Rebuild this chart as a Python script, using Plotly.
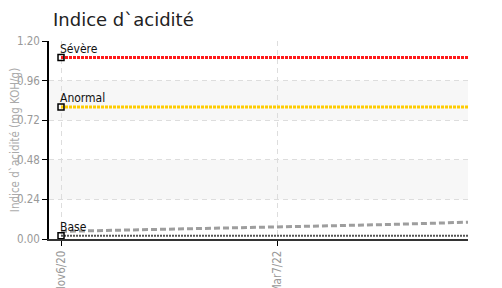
import plotly.graph_objects as go

# ---- data ----
tick_dates = ["2020-11-06", "2022-03-07"]
tick_labels = ["Nov6/20", "Mar7/22"]

x_start = "2020-11-06"
x_end = "2023-05-10"

threshold_names = ["Sévère", "Anormal", "Base"]
threshold_values = [1.10, 0.80, 0.02]
threshold_colors = ["#ff1a1a", "#ffcc00", "#555555"]

trend_dates = ["2020-11-06", "2021-03-01", "2021-07-01", "2021-11-01", "2022-03-07",
               "2022-07-01", "2022-11-01", "2023-03-01", "2023-05-10"]
trend_values = [0.046, 0.052, 0.058, 0.065, 0.072, 0.079, 0.087, 0.096, 0.102]

y_ticks = [0.0, 0.24, 0.48, 0.72, 0.96, 1.20]
bands = [(0.72, 0.96), (0.24, 0.48)]

COND = "DejaVu Sans Condensed, sans-serif"
tick_font = dict(family=COND, size=11.5, color="#999999")

fig = go.Figure()

# trend (gray dashed)
fig.add_trace(go.Scatter(x=trend_dates, y=trend_values, mode="lines",
                         line=dict(color="#9e9e9e", width=3, dash="6px,3px"),
                         hoverinfo="skip", showlegend=False))

# threshold lines
for name, val, col in zip(threshold_names, threshold_values, threshold_colors):
    w = 3 if name != "Base" else 2
    dash = "3px,1px" if name != "Base" else "2px,1px"
    fig.add_trace(go.Scatter(x=[x_start, x_end], y=[val, val], mode="lines",
                             line=dict(color=col, width=w, dash=dash),
                             hoverinfo="skip", showlegend=False))
    fig.add_trace(go.Scatter(x=[x_start], y=[val], mode="markers",
                             marker=dict(symbol="square-open", size=6, color="#000000",
                                         line=dict(width=1.5, color="#000000")),
                             hoverinfo="skip", showlegend=False))
    fig.add_annotation(x=x_start, y=val, text=name, showarrow=False,
                       xanchor="left", yanchor="bottom", xshift=-3, yshift=0,
                       font=dict(family=COND, size=12, color="#111111"))

for lo, hi in bands:
    fig.add_shape(type="rect", xref="paper", yref="y", x0=0, x1=1, y0=lo, y1=hi,
                  fillcolor="#f7f7f7", line=dict(width=0), layer="below")

# page body has an 8px margin: figure is 494x280 drawn from (8, 8)
fig.update_layout(
    width=494, height=280,
    margin=dict(l=41, r=34, t=33, b=49),
    paper_bgcolor="white", plot_bgcolor="white",
    title=dict(text="Indice d`acidité", x=45 / 494, xref="container", xanchor="left",
               y=1 - 11.5 / 280, yref="container", yanchor="middle",
               font=dict(family="DejaVu Sans, sans-serif", size=18, color="#222222")),
    showlegend=False,
)

fig.update_xaxes(
    type="date", range=["2020-10-10", x_end],
    tickmode="array", tickvals=tick_dates, ticktext=tick_labels,
    tickangle=-90, tickfont=tick_font,
    showgrid=True, gridcolor="#dddddd", griddash="5px,4px", gridwidth=1,
    showline=True, linecolor="#333333", linewidth=2,
    ticks="outside", ticklen=5, tickcolor="#000000",
    zeroline=False, automargin=False,
)
fig.update_yaxes(
    range=[0, 1.2], tickmode="array", tickvals=y_ticks,
    ticktext=[f"{v:.2f}" for v in y_ticks], tickfont=tick_font,
    showgrid=True, gridcolor="#dddddd", griddash="5px,4px", gridwidth=1,
    showline=True, linecolor="#000000", linewidth=1.5,
    ticks="outside", ticklen=5, tickcolor="#000000",
    zeroline=False, automargin=False,
    title=dict(text="Indice d`acidité (mg KOH/g)", standoff=3,
               font=dict(family=COND, size=11.5, color="#aaaaaa")),
)

fig.write_html("out.html")
